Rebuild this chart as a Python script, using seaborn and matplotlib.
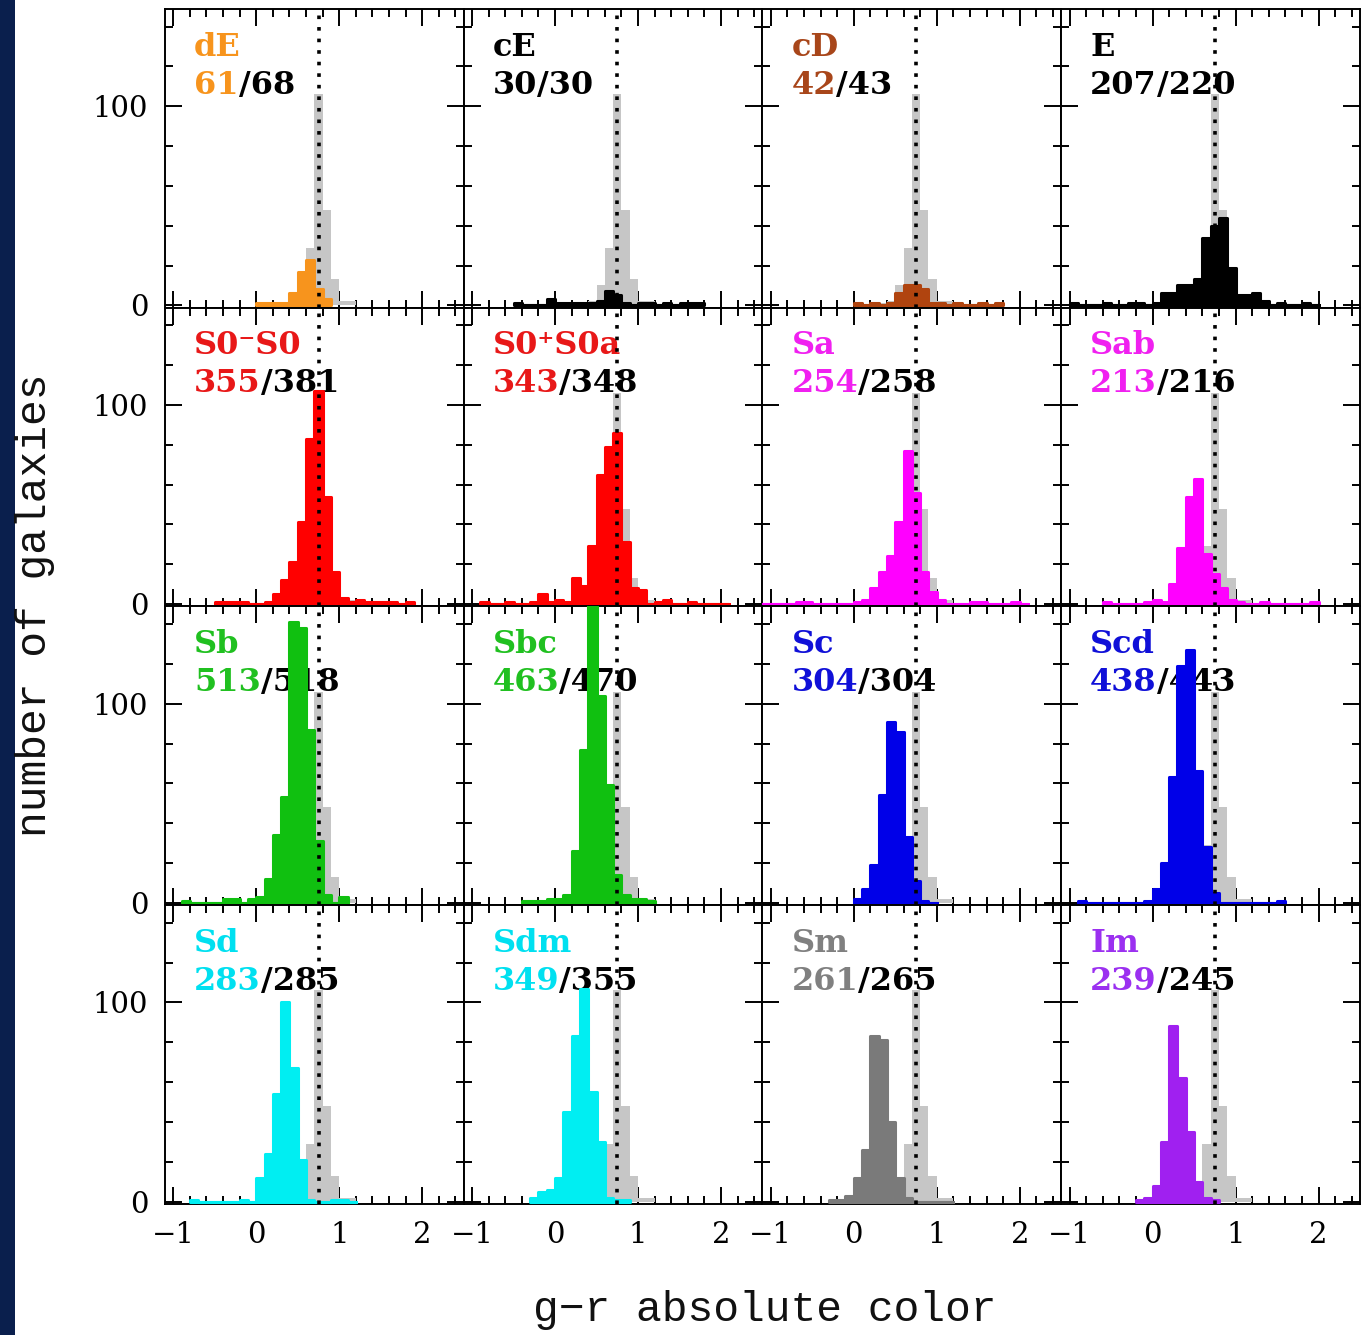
import numpy as np
import pandas as pd
import matplotlib
matplotlib.use("Agg")
import matplotlib.pyplot as plt
import seaborn as sns
from matplotlib.patches import Rectangle
from matplotlib.ticker import MultipleLocator

sns.set_theme(style="ticks")
plt.rcParams['font.family'] = ['DejaVu Serif', 'DejaVu Sans']

BIN = 0.1
REF_LINE = 0.75

# gray reference distribution (same in every panel)
ref_start = 0.3
ref_counts = [1, 2, 10, 29, 106, 48, 13, 2, 2]

# per-type histograms: first bin left edge and counts per 0.1-mag bin
dE_start, dE_counts = 0.0, [1, 1, 1, 1, 6, 17, 23, 8, 3]
cE_start, cE_counts = -0.5, [1, 0, 0, 0, 3, 1, 1, 1, 1, 1, 2, 7, 5, 1, 0, 1, 1, 0, 1, 0, 1, 1, 1]
cD_start, cD_counts = 0.0, [1, 0, 1, 0, 1, 6, 10, 10, 8, 1, 1, 0, 1, 0, 0, 1, 0, 1]
E_start, E_counts = -1.0, [1, 0, 0, 0, 1, 0, 0, 1, 1, 0, 1, 6, 6, 10, 10, 13, 34, 40, 44, 19,
                           5, 5, 6, 2, 0, 1, 0, 0, 1, 0]
S0m_start, S0m_counts = -0.5, [1, 1, 1, 1, 0, 0, 1, 5, 12, 21, 41, 83, 107, 54, 16, 3, 1, 2, 1, 1,
                               1, 1, 0, 1]
S0p_start, S0p_counts = -0.9, [1, 0, 0, 1, 0, 0, 1, 5, 1, 2, 1, 13, 9, 29, 65, 79, 86, 31, 8, 7,
                               0, 1, 2, 0, 0, 1, 0, 0, 0, 0]
Sa_start, Sa_counts = -1.1, [0, 0, 0, 0, 1, 1, 0, 0, 0, 0, 0, 1, 2, 8, 16, 24, 41, 77, 56, 16,
                             6, 2, 0, 0, 0, 1, 1, 0, 0, 0, 1, 0]
Sab_start, Sab_counts = -0.6, [1, 0, 0, 0, 0, 1, 2, 1, 10, 28, 54, 63, 25, 15, 8, 2, 1, 0, 0, 1,
                               0, 0, 0, 0, 0, 1]
Sb_start, Sb_counts = -0.9, [1, 0, 0, 0, 0, 2, 2, 0, 2, 3, 12, 34, 53, 141, 138, 87, 31, 4, 0, 3]
Sbc_start, Sbc_counts = -0.4, [1, 1, 1, 2, 2, 4, 26, 77, 163, 104, 59, 14, 4, 2, 2, 1]
Sc_start, Sc_counts = 0.0, [2, 7, 19, 54, 91, 86, 33, 11, 1, 0]
Scd_start, Scd_counts = -0.9, [1, 0, 0, 0, 0, 0, 0, 0, 1, 7, 20, 63, 119, 127, 66, 28, 5, 0, 0, 0,
                               0, 0, 0, 0, 1]
Sd_start, Sd_counts = -0.8, [1, 0, 0, 0, 0, 0, 1, 0, 12, 24, 54, 100, 67, 21, 1, 0, 0, 1, 1, 0]
Sdm_start, Sdm_counts = -0.3, [2, 5, 6, 12, 45, 83, 107, 55, 30, 2, 1, 1]
Sm_start, Sm_counts = -0.3, [1, 1, 3, 12, 26, 83, 81, 40, 12, 2, 0, 0, 0, 0, 0]
Im_start, Im_counts = -0.2, [1, 2, 8, 30, 88, 62, 35, 10, 2, 1]

type_names = ["dE", "cE", "cD", "E", "S0\u207bS0", "S0\u207aS0a", "Sa", "Sab",
              "Sb", "Sbc", "Sc", "Scd", "Sd", "Sdm", "Sm", "Im"]
n_shown = [61, 30, 42, 207, 355, 343, 254, 213, 513, 463, 304, 438, 283, 349, 261, 239]
n_total = [68, 30, 43, 220, 381, 348, 258, 216, 518, 470, 304, 443, 285, 355, 265, 245]
bar_colors = ["#f7941d", "#000000", "#b0440f", "#000000", "#ff0000", "#ff0000", "#ff00ff", "#ff00ff",
              "#10c010", "#10c010", "#0000e8", "#0000e8", "#00eef2", "#00eef2", "#7a7a7a", "#a020f0"]
label_colors = ["#f7941d", "#000000", "#a8461a", "#000000", "#e81818", "#e81818", "#f020f0", "#f020f0",
                "#20c020", "#20c020", "#1010d8", "#1010d8", "#00e0f0", "#00e0f0", "#808080", "#9b30f0"]

starts = [dE_start, cE_start, cD_start, E_start, S0m_start, S0p_start, Sa_start, Sab_start,
          Sb_start, Sbc_start, Sc_start, Scd_start, Sd_start, Sdm_start, Sm_start, Im_start]
counts = [dE_counts, cE_counts, cD_counts, E_counts, S0m_counts, S0p_counts, Sa_counts, Sab_counts,
          Sb_counts, Sbc_counts, Sc_counts, Scd_counts, Sd_counts, Sdm_counts, Sm_counts, Im_counts]

x_ticks = [-1, 0, 1, 2]
y_ticks = [0, 100]


def draw_hist(ax, start, cnts, color, lw, z):
    n = len(cnts)
    edges = [round(start + BIN * k, 4) for k in range(n + 1)]
    centers = [e + BIN / 2 for e in edges[:-1]]
    df = pd.DataFrame({"color": centers, "n": cnts})
    sns.histplot(data=df, x="color", weights="n", bins=edges, element="step", fill=True,
                 color=color, alpha=1, linewidth=lw, ax=ax, zorder=z)


W, H = 1361, 1335
fig, axes = plt.subplots(4, 4, figsize=(W / 100, H / 100), dpi=100)
fig.subplots_adjust(left=165 / W, right=1360 / W, top=1 - 9 / H, bottom=1 - 1204 / H,
                    wspace=0, hspace=0)
fig.patch.set_facecolor("white")
fig.patches.append(Rectangle((0, 0), 15 / W, 1, transform=fig.transFigure,
                             facecolor="#0a1f4d", edgecolor="none", zorder=0))

for i, ax in enumerate(axes.flat):
    r, c = divmod(i, 4)
    ax.set_facecolor("white")
    draw_hist(ax, ref_start, ref_counts, "#c6c6c6", 0, 2)
    draw_hist(ax, starts[i], counts[i], bar_colors[i], 2.2, 3)
    ax.axvline(REF_LINE, color="black", ls=(0, (1, 2.2)), lw=2.6, zorder=4)
    ax.set_xlim(-1.1, 2.5)
    ax.set_ylim(-1.2, 148.8)
    ax.set_xlabel("")
    ax.set_ylabel("")
    ax.xaxis.set_major_locator(MultipleLocator(1))
    ax.xaxis.set_minor_locator(MultipleLocator(0.2))
    ax.yaxis.set_major_locator(MultipleLocator(100))
    ax.yaxis.set_minor_locator(MultipleLocator(20))
    ax.tick_params(which="both", direction="in", top=True, right=True, width=1.4,
                   color="black", labelsize=21, labelcolor="black")
    ax.tick_params(which="major", length=12)
    ax.tick_params(which="minor", length=6)
    ax.tick_params(axis="x", pad=12)
    ax.tick_params(axis="y", pad=12)
    for s in ax.spines.values():
        s.set_linewidth(1.4)
        s.set_color("black")
        s.set_zorder(2.5)
    if c == 0:
        ax.set_yticks(y_ticks)
        ax.set_yticklabels([str(v) for v in y_ticks])
    else:
        ax.tick_params(axis="y", labelleft=False)
    if r == 3:
        ax.set_xticks(x_ticks)
        ax.set_xticklabels(["\u2212" + str(-v) if v < 0 else str(v) for v in x_ticks])
    else:
        ax.tick_params(axis="x", labelbottom=False)

    ax.text(0.097, 0.872, type_names[i], transform=ax.transAxes, color=label_colors[i],
            fontsize=23, fontweight="bold", va="center", ha="left", zorder=1)
    t = ax.text(0.097, 0.745, str(n_shown[i]), transform=ax.transAxes, color=label_colors[i],
                fontsize=23, fontweight="bold", va="center", ha="left", zorder=1)
    ax.annotate("/" + str(n_total[i]), xy=(1, 0), xycoords=t, color="black",
                fontsize=23, fontweight="bold", va="bottom", ha="left", zorder=1)

fig.text(35 / W, 1 - 605 / H, "number of galaxies", rotation=90, ha="center", va="center",
         fontsize=31, color="#111111", family=["Liberation Mono", "DejaVu Sans Mono"])
fig.text(765 / W, 1 - 1310 / H, "g\u2212r absolute color", ha="center", va="center",
         fontsize=31, color="#111111", family=["Liberation Mono", "DejaVu Sans Mono"])

fig.savefig("out.png", dpi=100, facecolor="white")
